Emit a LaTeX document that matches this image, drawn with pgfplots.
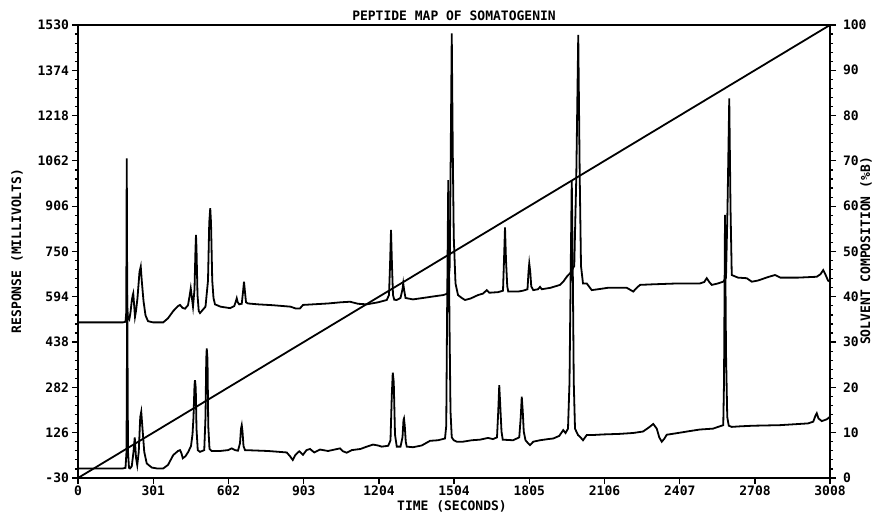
\documentclass[border=0pt]{standalone}
\usepackage{fontspec}
\setmainfont{DejaVu Sans Mono}
\usepackage{pgfplots}
\pgfplotsset{compat=1.18}
\begin{document}
\begin{tikzpicture}[font=\bfseries\fontsize{6.5}{7}\selectfont]
\begin{axis}[
 at={(0,0)}, anchor=south west, scale only axis, width=376pt, height=226.5pt,
 xmin=0, xmax=3008, ymin=-30, ymax=1530,
 xtick={0,301,602,903,1204,1504,1805,2106,2407,2708,3008},
 ytick={-30,126,282,438,594,750,906,1062,1218,1374,1530},
 minor x tick num=4, minor y tick num=4,
 xtick pos=bottom, ytick pos=left, tick align=outside,
 major tick length=3pt, minor tick length=1.5pt,
 /pgf/number format/1000 sep={}, /pgf/number format/assume math mode=true,
 ticklabel style={font=\bfseries\fontsize{6.5}{7}\selectfont},
 xticklabel style={yshift=2.5pt},
 yticklabel style={xshift=2pt},
 axis line style={line width=0.9pt},
 every tick/.style={black, line width=0.6pt},
]
% lower trace
\addplot[black, line width=0.9pt] coordinates {
(0,3) (180,3) (190,5) (194,60) (197,600) (200,60) (204,5) (208,3) (215,10) (222,60) (227,110) (232,40) (237,14) (243,60) (249,180) (253,198) (258,140) (265,60) (275,20) (295,6) (315,3) (341,3) (360,15) (381,49) (400,63) (408,66) (414,55) (419,38) (430,45) (441,60) (452,80) (458,120) (462,180) (466,290) (468,307) (471,280) (474,140) (479,66) (488,60) (505,66) (510,180) (513,380) (515,416) (518,380) (521,150) (526,70) (535,63) (568,63) (600,66) (615,72) (628,66) (640,64) (648,90) (652,140) (655,152) (658,130) (662,80) (668,66) (700,65) (760,63) (835,58) (848,45) (859,32) (870,50) (885,62) (900,50) (914,66) (928,70) (945,58) (968,68) (1000,63) (1048,72) (1060,62) (1075,57) (1095,66) (1130,70) (1155,78) (1180,85) (1200,82) (1215,78) (1241,81) (1250,100) (1255,250) (1259,333) (1263,300) (1268,120) (1275,78) (1290,78) (1298,110) (1302,170) (1304,175) (1307,150) (1311,95) (1315,78) (1340,76) (1375,82) (1408,98) (1440,100) (1468,106) (1473,150) (1476,500) (1481,996) (1486,500) (1490,200) (1495,110) (1503,100) (1515,95) (1540,95) (1575,100) (1608,102) (1640,108) (1660,104) (1676,110) (1681,200) (1685,290) (1689,220) (1694,130) (1699,102) (1740,100) (1765,110) (1771,180) (1775,250) (1779,200) (1783,130) (1790,100) (1800,90) (1808,83) (1821,95) (1848,100) (1880,104) (1901,106) (1925,115) (1941,135) (1950,125) (1960,140) (1966,300) (1971,700) (1975,996) (1979,700) (1983,300) (1988,140) (2000,118) (2010,110) (2020,100) (2035,118) (2060,118) (2100,120) (2168,122) (2220,125) (2260,130) (2285,145) (2301,156) (2315,140) (2325,110) (2335,95) (2345,105) (2355,119) (2400,125) (2450,132) (2488,137) (2540,140) (2581,152) (2584,300) (2588,876) (2592,400) (2597,180) (2603,150) (2615,146) (2650,148) (2700,150) (2808,152) (2920,158) (2941,164) (2950,185) (2955,193) (2962,175) (2975,166) (2995,172) (3008,181)
};
% upper trace
\addplot[black, line width=0.9pt] coordinates {
(0,506) (180,506) (190,508) (193,540) (195,1071) (197,560) (200,520) (205,515) (210,540) (215,580) (219,600) (221,606) (225,560) (228,525) (232,545) (238,590) (246,680) (251,698) (255,650) (262,580) (270,530) (280,510) (300,506) (341,506) (360,520) (381,545) (400,562) (408,566) (418,556) (428,553) (440,565) (447,600) (451,623) (455,595) (460,560) (466,620) (470,760) (472,807) (474,760) (478,600) (483,545) (488,538) (495,545) (510,560) (520,650) (525,850) (529,899) (532,850) (537,650) (542,590) (548,568) (570,560) (608,555) (625,562) (632,580) (635,589) (639,575) (645,568) (655,570) (660,610) (664,646) (668,610) (672,575) (680,571) (720,568) (780,565) (850,560) (870,554) (888,554) (900,566) (940,568) (1000,571) (1050,575) (1088,577) (1120,570) (1155,568) (1200,575) (1235,583) (1244,600) (1248,700) (1252,824) (1256,700) (1260,600) (1265,584) (1275,583) (1290,590) (1298,620) (1301,640) (1304,620) (1310,590) (1340,585) (1380,590) (1420,595) (1461,600) (1478,605) (1487,700) (1491,1100) (1495,1501) (1499,1100) (1503,800) (1510,640) (1520,600) (1535,590) (1548,583) (1570,588) (1600,600) (1620,605) (1635,617) (1645,608) (1680,610) (1700,615) (1704,720) (1708,833) (1712,720) (1717,630) (1721,612) (1760,612) (1780,615) (1798,620) (1802,680) (1805,709) (1809,680) (1813,630) (1821,617) (1840,620) (1848,628) (1855,620) (1890,625) (1928,635) (1941,646) (1955,663) (1968,675) (1985,700) (1993,1000) (2001,1496) (2007,1000) (2012,700) (2020,640) (2035,640) (2055,617) (2080,620) (2120,625) (2195,625) (2205,620) (2221,612) (2235,625) (2248,635) (2300,637) (2400,640) (2488,640) (2505,645) (2515,658) (2525,645) (2535,635) (2560,640) (2581,646) (2592,660) (2598,900) (2605,1277) (2610,900) (2615,669) (2640,660) (2675,658) (2695,646) (2720,650) (2760,662) (2788,669) (2810,660) (2880,660) (2955,663) (2970,672) (2981,686) (2990,670) (3000,650) (3008,646)
};
\end{axis}
\begin{axis}[
 at={(0,0)}, anchor=south west, scale only axis, width=376pt, height=226.5pt,
 xmin=0, xmax=3008, ymin=0, ymax=100,
 axis x line=none, axis y line*=right,
 ytick={0,10,...,100}, minor y tick num=4, tick align=outside,
 major tick length=3pt, minor tick length=1.5pt,
 /pgf/number format/assume math mode=true,
 ticklabel style={font=\bfseries\fontsize{6.5}{7}\selectfont},
 axis line style={line width=0.9pt},
 every tick/.style={black, line width=0.6pt},
]
\addplot[black, line width=0.9pt] coordinates {(0,0) (3008,100)};
\end{axis}
\node at (188pt,231pt) {PEPTIDE MAP OF SOMATOGENIN};
\node at (187pt,-14pt) {TIME (SECONDS)};
\node[rotate=90] at (-30.5pt,113.5pt) {RESPONSE (MILLIVOLTS)};
\node[rotate=90] at (394pt,113.5pt) {SOLVENT COMPOSITION (\%B)};
\pgfresetboundingbox
\path (-39pt,-17.5pt) rectangle (399.5pt,239pt);
\end{tikzpicture}
\end{document}
